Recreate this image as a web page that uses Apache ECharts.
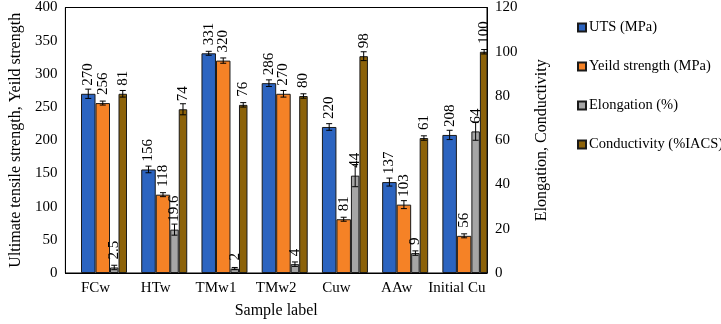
<!DOCTYPE html>
<html>
<head>
<meta charset="utf-8">
<script src="https://cdn.jsdelivr.net/npm/echarts@6/dist/echarts.min.js"></script>
<style>
  html, body { margin: 0; padding: 0; background: #fff; }
  #main { width: 721px; height: 324px; }
</style>
</head>
<body>
<div id="main"></div>
<script>
// data
var categories = ['FCw', 'HTw', 'TMw1', 'TMw2', 'Cuw', 'AAw', 'Initial Cu'];
var uts = [270, 156, 331, 286, 220, 137, 208];
var utsErr = [7, 5, 3, 5, 5, 6, 7];
var yieldStr = [256, 118, 320, 270, 81, 103, 56];
var yieldErr = [3, 3, 4, 5, 3, 6, 3];
var elongation = [2.5, 19.6, 2, 4, 44, 9, 64];
var elongErr = [1, 2.5, 0.5, 1, 5, 1, 4];
var conductivity = [81, 74, 76, 80, 98, 61, 100];
var condErr = [1.5, 2.5, 1, 1, 2, 1, 1];

var FONT = 'Liberation Serif';
var myChart = echarts.init(document.getElementById('main'));

// bar widths (px) and x offsets of each bar centre from the category centre
var W1 = 14.5, W2 = 8.5;
var offUts = -W1 / 2, offYield = W1 / 2, offElong = W1 + W2 / 2, offCond = W1 + W2 * 1.5;

function barSeries(name, data, axis, width, color) {
  return {
    name: name, type: 'bar', yAxisIndex: axis, data: data, barWidth: width, barGap: 0,
    itemStyle: { color: color, borderColor: '#1a1a1a', borderWidth: 1 },
    label: {
      show: true, position: 'top', rotate: 90, align: 'left', verticalAlign: 'middle',
      distance: 8, fontFamily: FONT, fontSize: 15, color: '#000'
    },
    z: 2
  };
}

function errSeries(vals, errs, axis, off) {
  return {
    type: 'custom', yAxisIndex: axis, silent: true, z: 5,
    data: vals.map(function (v, i) { return [i, v - errs[i], v + errs[i]]; }),
    encode: { x: 0, y: [1, 2] },
    renderItem: function (params, api) {
      var lo = api.coord([api.value(0), api.value(1)]);
      var hi = api.coord([api.value(0), api.value(2)]);
      var x = lo[0] + off, w = 3;
      var st = { stroke: '#000', lineWidth: 1 };
      return {
        type: 'group', children: [
          { type: 'line', shape: { x1: x, y1: lo[1], x2: x, y2: hi[1] }, style: st },
          { type: 'line', shape: { x1: x - w, y1: lo[1], x2: x + w, y2: lo[1] }, style: st },
          { type: 'line', shape: { x1: x - w, y1: hi[1], x2: x + w, y2: hi[1] }, style: st }
        ]
      };
    }
  };
}

myChart.setOption({
  animation: false,
  textStyle: { fontFamily: FONT },
  grid: { left: 54, right: 234, top: 5, bottom: 48, show: true, borderColor: '#000', borderWidth: 1 },
  legend: {
    data: ['UTS (MPa)', 'Yeild strength (MPa)', 'Elongation (%)', 'Conductivity (%IACS)'],
    orient: 'vertical', left: 572, top: 15, itemWidth: 8, itemHeight: 8, itemGap: 24,
    icon: 'rect', textStyle: { fontFamily: FONT, fontSize: 14.5, color: '#000', padding: [0, 0, 0, -2] }
  },
  xAxis: {
    type: 'category', data: categories,
    name: 'Sample label', nameLocation: 'middle', nameGap: 30,
    nameTextStyle: { fontFamily: FONT, fontSize: 16, color: '#000' },
    axisLine: { lineStyle: { color: '#000' } },
    axisTick: { show: false },
    axisLabel: { interval: 0, fontFamily: FONT, fontSize: 15, color: '#000', margin: 8 }
  },
  yAxis: [{
    type: 'value', min: 0, max: 400, interval: 50,
    name: 'Ultimate tensile strength, Yeild strength', nameLocation: 'middle', nameGap: 37,
    nameTextStyle: { fontFamily: FONT, fontSize: 16, color: '#000' },
    axisLine: { show: true, lineStyle: { color: '#000' } },
    axisTick: { show: false }, splitLine: { show: false },
    axisLabel: { fontFamily: FONT, fontSize: 15, color: '#000', margin: 8 }
  }, {
    type: 'value', min: 0, max: 120, interval: 20,
    name: 'Elongation, Conductivity', nameLocation: 'middle', nameGap: 47,
    nameTextStyle: { fontFamily: FONT, fontSize: 16, color: '#000' },
    axisLine: { show: true, lineStyle: { color: '#000' } },
    axisTick: { show: true, inside: true, length: 4, lineStyle: { color: '#000' } },
    splitLine: { show: false },
    axisLabel: { fontFamily: FONT, fontSize: 15, color: '#000', margin: 8 }
  }],
  series: [
    // empty slot so that the cluster sits like the original
    { name: 'pad', type: 'bar', data: categories.map(function () { return 0; }), barWidth: W2 * 2, barGap: 0,
      itemStyle: { color: 'rgba(0,0,0,0)' }, silent: true },
    barSeries('UTS (MPa)', uts, 0, W1, '#2C64C0'),
    barSeries('Yeild strength (MPa)', yieldStr, 0, W1, '#F58226'),
    barSeries('Elongation (%)', elongation, 1, W2, '#A6A6A6'),
    barSeries('Conductivity (%IACS)', conductivity, 1, W2, '#8C6209'),
    errSeries(uts, utsErr, 0, offUts),
    errSeries(yieldStr, yieldErr, 0, offYield),
    errSeries(elongation, elongErr, 1, offElong),
    errSeries(conductivity, condErr, 1, offCond)
  ]
});
</script>
</body>
</html>
